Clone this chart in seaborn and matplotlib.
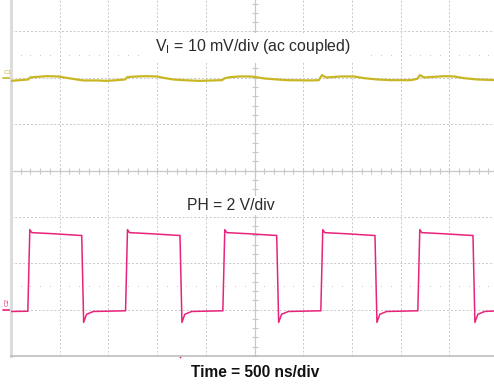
import matplotlib
matplotlib.use("Agg")
from matplotlib import pyplot as plt
from matplotlib.patches import Rectangle
import seaborn as sns
import pandas as pd
import numpy as np

####### DATA #######
# channel 1: input ripple (mV, ac coupled), 10 mV/div, ground marker at div 6
vin_t = [0, 90, 178, 195, 265, 365, 485, 570, 675, 740,
         880, 980, 1085, 1170, 1194, 1290, 1395, 1495, 1565, 1665,
         1770, 1940, 2075, 2165, 2197, 2250, 2350, 2455, 2495, 2600,
         2730, 2835, 3080, 3160, 3193, 3235, 3390, 3520, 3625, 3760,
         3900, 4105, 4170, 4199, 4240, 4445, 4550, 4650, 4785, 5000]
vin_mv = [-0.67, -0.52, -0.37, 0.06, 0.19, 0.34, 0.28, -0.02, -0.37, -0.58,
          -0.58, -0.67, -0.52, -0.37, 0.13, 0.28, 0.34, 0.28, -0.02, -0.37,
          -0.52, -0.67, -0.58, -0.52, -0.09, 0.13, 0.28, 0.28, 0.19, -0.15,
          -0.37, -0.52, -0.58, -0.52, 0.56, 0.06, 0.28, 0.28, -0.09, -0.37,
          -0.52, -0.52, -0.24, 0.56, 0.06, 0.34, 0.28, -0.09, -0.37, -0.52]

# channel 2: switch node PH (V), 2 V/div, ground marker at div 1
ph_t = [0, 173, 193, 213, 450, 706, 726, 746, 776, 846,
        1176, 1196, 1216, 1450, 1715, 1735, 1755, 1785, 1855,
        2175, 2195, 2215, 2450, 2708, 2728, 2748, 2778, 2848,
        3181, 3201, 3221, 3450, 3717, 3737, 3757, 3787, 3857,
        4177, 4197, 4217, 4450, 4723, 4743, 4763, 4793, 4863, 5000]
ph_v = [-0.08, -0.07, 3.45, 3.32, 3.27, 3.2, 3.2, -0.55, -0.2, -0.08,
        -0.05, 3.45, 3.32, 3.27, 3.2, 3.2, -0.55, -0.2, -0.08,
        -0.05, 3.45, 3.32, 3.27, 3.2, 3.2, -0.55, -0.2, -0.08,
        -0.05, 3.45, 3.32, 3.27, 3.2, 3.2, -0.55, -0.2, -0.08,
        -0.05, 3.45, 3.32, 3.27, 3.2, 3.2, -0.55, -0.2, -0.08, -0.05]

ch1_scale, ch1_offset = 10.0, 6.0   # mV/div, div
ch2_scale, ch2_offset = 2.0, 1.0    # V/div, div
time_div = 500                      # ns/div
trigger_t = 1735
##### END DATA #####

YELLOW = '#c9b623'
PINK = '#e8237b'
GRID = '#c8c8c8'

sns.set_style("white")
plt.rcParams['font.family'] = ['Liberation Sans', 'DejaVu Sans']
plt.rcParams['mathtext.fontset'] = 'custom'
plt.rcParams['mathtext.rm'] = 'Liberation Sans'

fig = plt.figure(figsize=(4.94, 3.86), dpi=100)
ax = fig.add_axes([11 / 494, 30 / 386, 487 / 494, 371 / 386])
ax.set_xlim(0, 10 * time_div)
ax.set_ylim(0, 8)

# graticule
for x in range(1, 10):
    if x == 5:
        continue
    ax.axvline(x * time_div, color=GRID, lw=0.7, ls=(0, (2, 2)), zorder=0)
for y in range(1, 8):
    if y == 4:
        continue
    ax.axhline(y, color=GRID, lw=0.7, ls=(0, (2, 2)), zorder=0)
ax.axvline(5 * time_div, color=GRID, lw=0.9, zorder=0)
ax.axhline(4, color=GRID, lw=0.9, zorder=0)
minor_x = np.arange(0, 10 * time_div + 1, time_div / 5)
minor_y = np.arange(0, 8.01, 0.2)
ax.plot(minor_x, np.full(len(minor_x), 4.0), ls='none', marker='|', ms=4.5,
        mew=0.8, color=GRID, zorder=0)
ax.plot(np.full(len(minor_y), 5 * time_div), minor_y, ls='none', marker='_',
        ms=4.5, mew=0.8, color=GRID, zorder=0)
for y in [6.5, 1.5]:
    ax.plot(minor_x[1:], np.full(len(minor_x) - 1, y), ls='none', marker='s',
            ms=0.6, mew=0, color='#c6c6c6', zorder=0)

for s in ['top', 'right']:
    ax.spines[s].set_visible(False)
ax.spines['left'].set_color('#dcdcdc')
ax.spines['left'].set_linewidth(2.2)
ax.spines['bottom'].set_color('#bdbdbd')
ax.spines['bottom'].set_linewidth(1.2)
ax.set_xticks([])
ax.set_yticks([])

# label boxes
ax.add_patch(Rectangle((1325, 6.31), 2360, 0.65, fc='white', ec='none', zorder=1))
ax.add_patch(Rectangle((1640, 3.03), 1230, 0.43, fc='white', ec='none', zorder=1))

ax.text(2485, 6.68, r'V$_\mathrm{I}$ = 10 mV/div (ac coupled)', ha='center',
        va='center', fontsize=11.4, color='#2a2a2a', zorder=2)
ax.text(2260, 3.24, 'PH = 2 V/div', ha='center', va='center', fontsize=11.3,
        color='#2a2a2a', zorder=2)

# traces
df1 = pd.DataFrame({'t': vin_t, 'div': np.array(vin_mv) / ch1_scale + ch1_offset})
df2 = pd.DataFrame({'t': ph_t, 'div': np.array(ph_v) / ch2_scale + ch2_offset})
sns.lineplot(data=df1, x='t', y='div', ax=ax, color=YELLOW, lw=1.6,
             estimator=None, sort=False, zorder=3)
sns.lineplot(data=df2, x='t', y='div', ax=ax, color=PINK, lw=1.1,
             estimator=None, sort=False, zorder=3)
ax.set_xlabel('')
ax.set_ylabel('')

# ground markers and trigger position
ax.plot([-80, 0], [ch1_offset, ch1_offset], color=YELLOW, lw=1.2, clip_on=False)
ax.text(-75, ch1_offset + 0.07, 'C1', color=YELLOW, fontsize=4.5, ha='left',
        va='bottom', clip_on=False)
ax.plot([-80, 0], [ch2_offset, ch2_offset], color=PINK, lw=1.2, clip_on=False)
ax.text(-70, ch2_offset + 0.08, 'C2', color=PINK, fontsize=4.5, rotation=90,
        ha='left', va='bottom', clip_on=False)
ax.plot([trigger_t], [-0.03], marker='o', ms=1.3, mew=0, color=PINK, clip_on=False)

fig.text(255 / 494, 1 - 372.5 / 386, 'Time = 500 ns/div', ha='center',
         va='center', fontsize=11.2, fontweight='bold', color='#111111')

fig.savefig('out.png', dpi=100)
